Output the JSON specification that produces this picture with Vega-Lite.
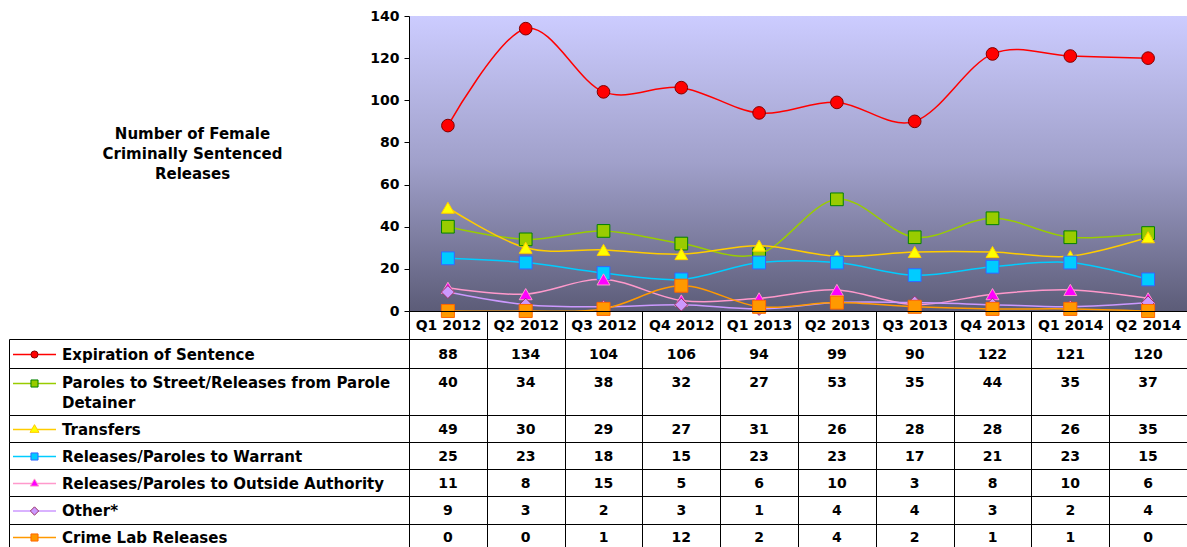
{
 "$schema": "https://vega.github.io/schema/vega-lite/v6.json",
 "padding": {"left": 8, "top": 8, "right": 0, "bottom": 0},
 "datasets": {
  "d": [
   {"s": "Expiration of Sentence", "Q1 2012": 88, "Q2 2012": 134, "Q3 2012": 104, "Q4 2012": 106, "Q1 2013": 94, "Q2 2013": 99, "Q3 2013": 90, "Q4 2013": 122, "Q1 2014": 121, "Q2 2014": 120},
   {"s": "Paroles to Street/Releases from Parole Detainer", "Q1 2012": 40, "Q2 2012": 34, "Q3 2012": 38, "Q4 2012": 32, "Q1 2013": 27, "Q2 2013": 53, "Q3 2013": 35, "Q4 2013": 44, "Q1 2014": 35, "Q2 2014": 37},
   {"s": "Transfers", "Q1 2012": 49, "Q2 2012": 30, "Q3 2012": 29, "Q4 2012": 27, "Q1 2013": 31, "Q2 2013": 26, "Q3 2013": 28, "Q4 2013": 28, "Q1 2014": 26, "Q2 2014": 35},
   {"s": "Releases/Paroles to Warrant", "Q1 2012": 25, "Q2 2012": 23, "Q3 2012": 18, "Q4 2012": 15, "Q1 2013": 23, "Q2 2013": 23, "Q3 2013": 17, "Q4 2013": 21, "Q1 2014": 23, "Q2 2014": 15},
   {"s": "Releases/Paroles to Outside Authority", "Q1 2012": 11, "Q2 2012": 8, "Q3 2012": 15, "Q4 2012": 5, "Q1 2013": 6, "Q2 2013": 10, "Q3 2013": 3, "Q4 2013": 8, "Q1 2014": 10, "Q2 2014": 6},
   {"s": "Other*", "Q1 2012": 9, "Q2 2012": 3, "Q3 2012": 2, "Q4 2012": 3, "Q1 2013": 1, "Q2 2013": 4, "Q3 2013": 4, "Q4 2013": 3, "Q1 2014": 2, "Q2 2014": 4},
   {"s": "Crime Lab Releases", "Q1 2012": 0, "Q2 2012": 0, "Q3 2012": 1, "Q4 2012": 12, "Q1 2013": 2, "Q2 2013": 4, "Q3 2013": 2, "Q4 2013": 1, "Q1 2014": 1, "Q2 2014": 0}
  ]
 },
 "columns": 2,
 "align": "each",
 "bounds": "flush",
 "spacing": 0,
 "concat": [
  {"width": 400, "height": 323, "view": {"stroke": null}, "data": {"values": []}, "mark": "text", "encoding": {}},
  {"width": 778, "height": 295, "view": {"stroke": "#A0A0A0"},
   "layer": [
    {"data": {"values": [{"lo": 0, "hi": 140}]},
     "mark": {"type": "rect", "fill": {"gradient": "linear", "x1": 0, "y1": 0, "x2": 0, "y2": 1, "stops": [{"offset": 0, "color": "#CCCCFF"}, {"offset": 0.5, "color": "#A0A0CA"}, {"offset": 1, "color": "#5C5C78"}]}},
     "encoding": {"y": {"field": "lo", "type": "quantitative", "scale": {"domain": [0, 140], "nice": false}}, "y2": {"field": "hi"}}},
    {"data": {"name": "d"},
     "transform": [{"fold": ["Q1 2012", "Q2 2012", "Q3 2012", "Q4 2012", "Q1 2013", "Q2 2013", "Q3 2013", "Q4 2013", "Q1 2014", "Q2 2014"], "as": ["q", "v"]}],
     "mark": {"type": "line", "interpolate": "cardinal", "strokeWidth": 1.5},
     "encoding": {
      "x": {"field": "q", "type": "nominal", "sort": ["Q1 2012", "Q2 2012", "Q3 2012", "Q4 2012", "Q1 2013", "Q2 2013", "Q3 2013", "Q4 2013", "Q1 2014", "Q2 2014"], "scale": {"type": "band", "paddingInner": 0, "paddingOuter": 0},
       "axis": {"orient": "bottom", "title": null, "labelAngle": 0, "tickBand": "extent", "tickSize": 28, "tickColor": "#000", "tickWidth": 1, "domainColor": "#000", "domainWidth": 1, "labelPadding": -14, "labelBaseline": "middle", "labelAlign": "center", "labelFontSize": 14, "labelFontWeight": "bold", "labelColor": "#000", "labelOverlap": false, "labelBound": false, "grid": false, "zindex": 1}},
      "y": {"field": "v", "type": "quantitative", "scale": {"domain": [0, 140], "nice": false},
       "axis": {"title": ["Number of Female", "Criminally Sentenced", "Releases"], "titleAngle": 0, "titleX": -217, "titleY": 117, "titleAlign": "center", "titleBaseline": "middle", "titleFontSize": 15, "titleFontWeight": "bold", "titleColor": "#000", "titleLineHeight": 20, "values": [0, 20, 40, 60, 80, 100, 120, 140], "tickSize": 5, "tickColor": "#000", "domainColor": "#000", "labelPadding": 5, "labelFontSize": 14, "labelFontWeight": "bold", "labelColor": "#000", "grid": false, "zindex": 1}},
      "color": {"field": "s", "type": "nominal", "scale": {"domain": ["Expiration of Sentence", "Paroles to Street/Releases from Parole Detainer", "Transfers", "Releases/Paroles to Warrant", "Releases/Paroles to Outside Authority", "Other*", "Crime Lab Releases"], "range": ["#FF0000", "#99CC00", "#FFCC00", "#00CCFF", "#FF99CC", "#CC99FF", "#FF9900"]}, "legend": null}
     }},
    {"data": {"name": "d"},
     "transform": [{"fold": ["Q1 2012", "Q2 2012", "Q3 2012", "Q4 2012", "Q1 2013", "Q2 2013", "Q3 2013", "Q4 2013", "Q1 2014", "Q2 2014"], "as": ["q", "v"]}],
     "mark": {"type": "point", "filled": true, "opacity": 1, "strokeWidth": 1},
     "encoding": {
      "x": {"field": "q", "type": "nominal", "sort": ["Q1 2012", "Q2 2012", "Q3 2012", "Q4 2012", "Q1 2013", "Q2 2013", "Q3 2013", "Q4 2013", "Q1 2014", "Q2 2014"], "scale": {"type": "band", "paddingInner": 0, "paddingOuter": 0}},
      "y": {"field": "v", "type": "quantitative", "scale": {"domain": [0, 140], "nice": false}},
      "shape": {"field": "s", "type": "nominal", "scale": {"domain": ["Expiration of Sentence", "Paroles to Street/Releases from Parole Detainer", "Transfers", "Releases/Paroles to Warrant", "Releases/Paroles to Outside Authority", "Other*", "Crime Lab Releases"], "range": ["circle", "square", "triangle-up", "square", "triangle-up", "diamond", "square"]}, "legend": null},
      "fill": {"field": "s", "type": "nominal", "scale": {"domain": ["Expiration of Sentence", "Paroles to Street/Releases from Parole Detainer", "Transfers", "Releases/Paroles to Warrant", "Releases/Paroles to Outside Authority", "Other*", "Crime Lab Releases"], "range": ["#FF0000", "#99CC00", "#FFFF00", "#00CCFF", "#FF00FF", "#CC99FF", "#FF9900"]}, "legend": null},
      "stroke": {"field": "s", "type": "nominal", "scale": {"domain": ["Expiration of Sentence", "Paroles to Street/Releases from Parole Detainer", "Transfers", "Releases/Paroles to Warrant", "Releases/Paroles to Outside Authority", "Other*", "Crime Lab Releases"], "range": ["#800000", "#008000", "#FFCC00", "#3366FF", "#FF99CC", "#993366", "#FF6600"]}, "legend": null},
      "size": {"field": "s", "type": "nominal", "scale": {"domain": ["Expiration of Sentence", "Paroles to Street/Releases from Parole Detainer", "Transfers", "Releases/Paroles to Warrant", "Releases/Paroles to Outside Authority", "Other*", "Crime Lab Releases"], "range": [160, 170, 240, 170, 150, 190, 180]}, "legend": null}
     }}
   ]},

  {"width": 400, "height": 29, "view": {"stroke": "#000"}, "data": {"name": "d"}, "transform": [{"filter": "datum.s == 'Expiration of Sentence'"}],
   "layer": [
    {"mark": {"type": "point", "shape": "M-1,0L1,0", "size": 1849, "filled": false, "stroke": "#FF0000", "strokeWidth": 1.5, "opacity": 1, "xOffset": -174.5, "yOffset": 1}, "encoding": {}},
    {"mark": {"type": "point", "shape": "circle", "filled": true, "fill": "#FF0000", "stroke": "#800000", "strokeWidth": 1, "size": 50, "opacity": 1, "xOffset": -174.5, "yOffset": 1}, "encoding": {}},
    {"mark": {"type": "text", "align": "left", "baseline": "middle", "dx": -147, "dy": 1, "fontSize": 15, "fontWeight": "bold", "color": "#000"}, "encoding": {"text": {"field": "s"}}}
   ]},
  {"width": 778, "height": 29, "data": {"name": "d"},
   "transform": [{"filter": "datum.s == 'Expiration of Sentence'"}, {"fold": ["Q1 2012", "Q2 2012", "Q3 2012", "Q4 2012", "Q1 2013", "Q2 2013", "Q3 2013", "Q4 2013", "Q1 2014", "Q2 2014"], "as": ["q", "v"]}],
   "mark": {"type": "text", "baseline": "middle", "dy": 1, "fontSize": 14, "fontWeight": "bold", "color": "#000"},
   "encoding": {"x": {"field": "q", "type": "nominal", "sort": ["Q1 2012", "Q2 2012", "Q3 2012", "Q4 2012", "Q1 2013", "Q2 2013", "Q3 2013", "Q4 2013", "Q1 2014", "Q2 2014"], "scale": {"type": "band", "paddingInner": 0, "paddingOuter": 0}, "axis": {"orient": "top", "title": null, "labels": false, "ticks": false, "domain": false, "grid": true, "tickBand": "extent", "gridColor": "#000", "gridOpacity": 1, "gridWidth": 1}}, "text": {"field": "v", "type": "quantitative"}}},

  {"width": 400, "height": 47, "view": {"stroke": "#000"}, "data": {"name": "d"}, "transform": [{"filter": "datum.s == 'Paroles to Street/Releases from Parole Detainer'"}],
   "layer": [
    {"mark": {"type": "point", "shape": "M-1,0L1,0", "size": 1849, "filled": false, "stroke": "#99CC00", "strokeWidth": 1.5, "opacity": 1, "xOffset": -174.5, "yOffset": -8}, "encoding": {}},
    {"mark": {"type": "point", "shape": "square", "filled": true, "fill": "#99CC00", "stroke": "#008000", "strokeWidth": 1, "size": 50, "opacity": 1, "xOffset": -174.5, "yOffset": -8}, "encoding": {}},
    {"mark": {"type": "text", "align": "left", "baseline": "middle", "dx": -147, "dy": -9, "lineHeight": 20, "fontSize": 15, "fontWeight": "bold", "color": "#000"}, "encoding": {"text": {"value": ["Paroles to Street/Releases from Parole", "Detainer"]}}}
   ]},
  {"width": 778, "height": 47, "data": {"name": "d"},
   "transform": [{"filter": "datum.s == 'Paroles to Street/Releases from Parole Detainer'"}, {"fold": ["Q1 2012", "Q2 2012", "Q3 2012", "Q4 2012", "Q1 2013", "Q2 2013", "Q3 2013", "Q4 2013", "Q1 2014", "Q2 2014"], "as": ["q", "v"]}],
   "mark": {"type": "text", "baseline": "middle", "dy": -9, "fontSize": 14, "fontWeight": "bold", "color": "#000"},
   "encoding": {"x": {"field": "q", "type": "nominal", "sort": ["Q1 2012", "Q2 2012", "Q3 2012", "Q4 2012", "Q1 2013", "Q2 2013", "Q3 2013", "Q4 2013", "Q1 2014", "Q2 2014"], "scale": {"type": "band", "paddingInner": 0, "paddingOuter": 0}, "axis": {"orient": "top", "title": null, "labels": false, "ticks": false, "domain": false, "grid": true, "tickBand": "extent", "gridColor": "#000", "gridOpacity": 1, "gridWidth": 1}}, "text": {"field": "v", "type": "quantitative"}}},

  {"width": 400, "height": 27, "view": {"stroke": "#000"}, "data": {"name": "d"}, "transform": [{"filter": "datum.s == 'Transfers'"}],
   "layer": [
    {"mark": {"type": "point", "shape": "M-1,0L1,0", "size": 1849, "filled": false, "stroke": "#FFCC00", "strokeWidth": 1.5, "opacity": 1, "xOffset": -174.5, "yOffset": 1}, "encoding": {}},
    {"mark": {"type": "point", "shape": "triangle-up", "filled": true, "fill": "#FFFF00", "stroke": "#FFCC00", "strokeWidth": 1, "size": 80, "opacity": 1, "xOffset": -174.5, "yOffset": 0}, "encoding": {}},
    {"mark": {"type": "text", "align": "left", "baseline": "middle", "dx": -147, "dy": 1, "fontSize": 15, "fontWeight": "bold", "color": "#000"}, "encoding": {"text": {"field": "s"}}}
   ]},
  {"width": 778, "height": 27, "data": {"name": "d"},
   "transform": [{"filter": "datum.s == 'Transfers'"}, {"fold": ["Q1 2012", "Q2 2012", "Q3 2012", "Q4 2012", "Q1 2013", "Q2 2013", "Q3 2013", "Q4 2013", "Q1 2014", "Q2 2014"], "as": ["q", "v"]}],
   "mark": {"type": "text", "baseline": "middle", "dy": 1, "fontSize": 14, "fontWeight": "bold", "color": "#000"},
   "encoding": {"x": {"field": "q", "type": "nominal", "sort": ["Q1 2012", "Q2 2012", "Q3 2012", "Q4 2012", "Q1 2013", "Q2 2013", "Q3 2013", "Q4 2013", "Q1 2014", "Q2 2014"], "scale": {"type": "band", "paddingInner": 0, "paddingOuter": 0}, "axis": {"orient": "top", "title": null, "labels": false, "ticks": false, "domain": false, "grid": true, "tickBand": "extent", "gridColor": "#000", "gridOpacity": 1, "gridWidth": 1}}, "text": {"field": "v", "type": "quantitative"}}},

  {"width": 400, "height": 27, "view": {"stroke": "#000"}, "data": {"name": "d"}, "transform": [{"filter": "datum.s == 'Releases/Paroles to Warrant'"}],
   "layer": [
    {"mark": {"type": "point", "shape": "M-1,0L1,0", "size": 1849, "filled": false, "stroke": "#00CCFF", "strokeWidth": 1.5, "opacity": 1, "xOffset": -174.5, "yOffset": 1}, "encoding": {}},
    {"mark": {"type": "point", "shape": "square", "filled": true, "fill": "#00CCFF", "stroke": "#3366FF", "strokeWidth": 1, "size": 50, "opacity": 1, "xOffset": -174.5, "yOffset": 1}, "encoding": {}},
    {"mark": {"type": "text", "align": "left", "baseline": "middle", "dx": -147, "dy": 1, "fontSize": 15, "fontWeight": "bold", "color": "#000"}, "encoding": {"text": {"field": "s"}}}
   ]},
  {"width": 778, "height": 27, "data": {"name": "d"},
   "transform": [{"filter": "datum.s == 'Releases/Paroles to Warrant'"}, {"fold": ["Q1 2012", "Q2 2012", "Q3 2012", "Q4 2012", "Q1 2013", "Q2 2013", "Q3 2013", "Q4 2013", "Q1 2014", "Q2 2014"], "as": ["q", "v"]}],
   "mark": {"type": "text", "baseline": "middle", "dy": 1, "fontSize": 14, "fontWeight": "bold", "color": "#000"},
   "encoding": {"x": {"field": "q", "type": "nominal", "sort": ["Q1 2012", "Q2 2012", "Q3 2012", "Q4 2012", "Q1 2013", "Q2 2013", "Q3 2013", "Q4 2013", "Q1 2014", "Q2 2014"], "scale": {"type": "band", "paddingInner": 0, "paddingOuter": 0}, "axis": {"orient": "top", "title": null, "labels": false, "ticks": false, "domain": false, "grid": true, "tickBand": "extent", "gridColor": "#000", "gridOpacity": 1, "gridWidth": 1}}, "text": {"field": "v", "type": "quantitative"}}},

  {"width": 400, "height": 27, "view": {"stroke": "#000"}, "data": {"name": "d"}, "transform": [{"filter": "datum.s == 'Releases/Paroles to Outside Authority'"}],
   "layer": [
    {"mark": {"type": "point", "shape": "M-1,0L1,0", "size": 1849, "filled": false, "stroke": "#FF99CC", "strokeWidth": 1.5, "opacity": 1, "xOffset": -174.5, "yOffset": 1}, "encoding": {}},
    {"mark": {"type": "point", "shape": "triangle-up", "filled": true, "fill": "#FF00FF", "stroke": "#FF99CC", "strokeWidth": 1, "size": 70, "opacity": 1, "xOffset": -174.5, "yOffset": 0}, "encoding": {}},
    {"mark": {"type": "text", "align": "left", "baseline": "middle", "dx": -147, "dy": 1, "fontSize": 15, "fontWeight": "bold", "color": "#000"}, "encoding": {"text": {"field": "s"}}}
   ]},
  {"width": 778, "height": 27, "data": {"name": "d"},
   "transform": [{"filter": "datum.s == 'Releases/Paroles to Outside Authority'"}, {"fold": ["Q1 2012", "Q2 2012", "Q3 2012", "Q4 2012", "Q1 2013", "Q2 2013", "Q3 2013", "Q4 2013", "Q1 2014", "Q2 2014"], "as": ["q", "v"]}],
   "mark": {"type": "text", "baseline": "middle", "dy": 1, "fontSize": 14, "fontWeight": "bold", "color": "#000"},
   "encoding": {"x": {"field": "q", "type": "nominal", "sort": ["Q1 2012", "Q2 2012", "Q3 2012", "Q4 2012", "Q1 2013", "Q2 2013", "Q3 2013", "Q4 2013", "Q1 2014", "Q2 2014"], "scale": {"type": "band", "paddingInner": 0, "paddingOuter": 0}, "axis": {"orient": "top", "title": null, "labels": false, "ticks": false, "domain": false, "grid": true, "tickBand": "extent", "gridColor": "#000", "gridOpacity": 1, "gridWidth": 1}}, "text": {"field": "v", "type": "quantitative"}}},

  {"width": 400, "height": 28, "view": {"stroke": "#000"}, "data": {"name": "d"}, "transform": [{"filter": "datum.s == 'Other*'"}],
   "layer": [
    {"mark": {"type": "point", "shape": "M-1,0L1,0", "size": 1849, "filled": false, "stroke": "#CC99FF", "strokeWidth": 1.5, "opacity": 1, "xOffset": -174.5, "yOffset": 1}, "encoding": {}},
    {"mark": {"type": "point", "shape": "diamond", "filled": true, "fill": "#CC99FF", "stroke": "#993366", "strokeWidth": 1, "size": 70, "opacity": 1, "xOffset": -174.5, "yOffset": 1}, "encoding": {}},
    {"mark": {"type": "text", "align": "left", "baseline": "middle", "dx": -147, "dy": 1, "fontSize": 15, "fontWeight": "bold", "color": "#000"}, "encoding": {"text": {"field": "s"}}}
   ]},
  {"width": 778, "height": 28, "data": {"name": "d"},
   "transform": [{"filter": "datum.s == 'Other*'"}, {"fold": ["Q1 2012", "Q2 2012", "Q3 2012", "Q4 2012", "Q1 2013", "Q2 2013", "Q3 2013", "Q4 2013", "Q1 2014", "Q2 2014"], "as": ["q", "v"]}],
   "mark": {"type": "text", "baseline": "middle", "dy": 1, "fontSize": 14, "fontWeight": "bold", "color": "#000"},
   "encoding": {"x": {"field": "q", "type": "nominal", "sort": ["Q1 2012", "Q2 2012", "Q3 2012", "Q4 2012", "Q1 2013", "Q2 2013", "Q3 2013", "Q4 2013", "Q1 2014", "Q2 2014"], "scale": {"type": "band", "paddingInner": 0, "paddingOuter": 0}, "axis": {"orient": "top", "title": null, "labels": false, "ticks": false, "domain": false, "grid": true, "tickBand": "extent", "gridColor": "#000", "gridOpacity": 1, "gridWidth": 1}}, "text": {"field": "v", "type": "quantitative"}}},

  {"width": 400, "height": 23, "view": {"stroke": "#000"}, "data": {"name": "d"}, "transform": [{"filter": "datum.s == 'Crime Lab Releases'"}],
   "layer": [
    {"mark": {"type": "point", "shape": "M-1,0L1,0", "size": 1849, "filled": false, "stroke": "#FF9900", "strokeWidth": 1.5, "opacity": 1, "xOffset": -174.5, "yOffset": 2}, "encoding": {}},
    {"mark": {"type": "point", "shape": "square", "filled": true, "fill": "#FF9900", "stroke": "#FF6600", "strokeWidth": 1, "size": 50, "opacity": 1, "xOffset": -174.5, "yOffset": 2}, "encoding": {}},
    {"mark": {"type": "text", "align": "left", "baseline": "middle", "dx": -147, "dy": 2, "fontSize": 15, "fontWeight": "bold", "color": "#000"}, "encoding": {"text": {"field": "s"}}}
   ]},
  {"width": 778, "height": 23, "data": {"name": "d"},
   "transform": [{"filter": "datum.s == 'Crime Lab Releases'"}, {"fold": ["Q1 2012", "Q2 2012", "Q3 2012", "Q4 2012", "Q1 2013", "Q2 2013", "Q3 2013", "Q4 2013", "Q1 2014", "Q2 2014"], "as": ["q", "v"]}],
   "mark": {"type": "text", "baseline": "middle", "dy": 2, "fontSize": 14, "fontWeight": "bold", "color": "#000"},
   "encoding": {"x": {"field": "q", "type": "nominal", "sort": ["Q1 2012", "Q2 2012", "Q3 2012", "Q4 2012", "Q1 2013", "Q2 2013", "Q3 2013", "Q4 2013", "Q1 2014", "Q2 2014"], "scale": {"type": "band", "paddingInner": 0, "paddingOuter": 0}, "axis": {"orient": "top", "title": null, "labels": false, "ticks": false, "domain": false, "grid": true, "tickBand": "extent", "gridColor": "#000", "gridOpacity": 1, "gridWidth": 1}}, "text": {"field": "v", "type": "quantitative"}}}
 ],
 "config": {
  "font": "DejaVu Sans",
  "legend": {"disable": true},
  "view": {"stroke": "#000", "strokeWidth": 1}
 }
}
